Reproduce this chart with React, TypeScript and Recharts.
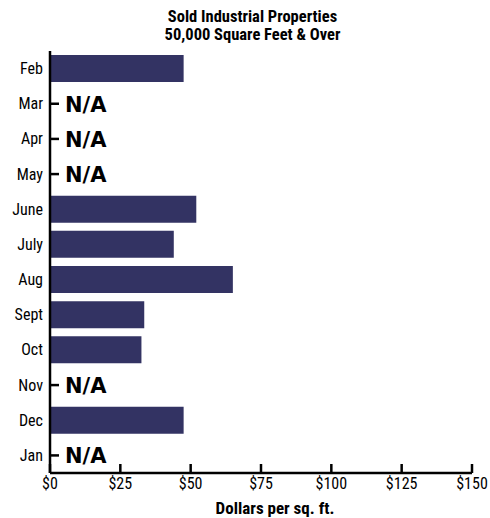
import { BarChart, Bar, XAxis, YAxis } from 'recharts';

const months = ['Feb', 'Mar', 'Apr', 'May', 'June', 'July', 'Aug', 'Sept', 'Oct', 'Nov', 'Dec', 'Jan'];
// null = N/A in the source
const pricePerSqFt: (number | null)[] = [47.5, null, null, null, 52, 44, 65, 33.5, 32.5, null, 47.5, null];
const xTicks = [0, 25, 50, 75, 100, 125, 150];

const titleLines = ['Sold Industrial Properties', '50,000 Square Feet & Over'];

const data = months.map((month, i) => ({ month, value: pricePerSqFt[i] }));

const narrow = "'Liberation Sans Narrow', 'Roboto Condensed', 'Arial Narrow', sans-serif";

// month label, plus the inner tick and "N/A" for months without a value
function MonthTick(props: any) {
  const { x, y, payload, index } = props;
  const missing = pricePerSqFt[index] === null;
  return (
    <g>
      <text x={x - 7} y={y} dy={5.5} textAnchor="end" fill="#000" fontSize={16} fontFamily={narrow}>
        {payload.value}
      </text>
      {missing && (
        <>
          <line x1={x} x2={x + 9} y1={y} y2={y} stroke="#000" strokeWidth={2.5} />
          <text
            x={x + 15}
            y={y + 8}
            fontFamily="'DejaVu Sans', sans-serif"
            fontWeight="bold"
            fontSize={21}
            fill="#000"
          >
            N/A
          </text>
        </>
      )}
    </g>
  );
}

export default function App() {
  return (
    <div style={{ position: 'absolute', left: 0, top: 0, width: 490, height: 518, background: '#fff' }}>
      <div
        style={{
          position: 'absolute',
          left: 0,
          top: 8,
          width: 505,
          textAlign: 'center',
          fontFamily: narrow,
          fontWeight: 'bold',
          fontSize: 16.5,
          lineHeight: '18px',
        }}
      >
        {titleLines.map((t) => (
          <div key={t} style={{ height: 18, overflow: 'visible' }}>{t}</div>
        ))}
      </div>
      <BarChart
        width={490}
        height={518}
        data={data}
        layout="vertical"
        margin={{ top: 51, right: 18, left: 0, bottom: 0 }}
      >
        <XAxis
          type="number"
          domain={[0, 150]}
          ticks={xTicks}
          tickFormatter={(v) => `$${v}`}
          height={45}
          axisLine={{ stroke: '#000', strokeWidth: 2.5 }}
          tickLine={{ stroke: '#000', strokeWidth: 2.5 }}
          tickSize={-9}
          tickMargin={14}
          tick={{ fill: '#000', fontSize: 16, fontFamily: narrow }}
          label={{
            value: 'Dollars per sq. ft.',
            position: 'insideBottom',
            dx: 14,
            offset: 4,
            fill: '#000',
            fontSize: 17,
            fontWeight: 'bold',
            fontFamily: narrow,
          }}
        />
        <YAxis
          type="category"
          dataKey="month"
          width={50}
          interval={0}
          axisLine={{ stroke: '#000', strokeWidth: 2.5 }}
          tickLine={false}
          tickSize={0}
          tickMargin={0}
          tick={MonthTick}
        />
        <Bar dataKey="value" fill="#333363" barSize={27} isAnimationActive={false} />
      </BarChart>
    </div>
  );
}
